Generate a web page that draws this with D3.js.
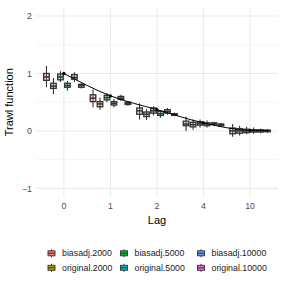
<!DOCTYPE html>
<html>
<head>
<meta charset="utf-8">
<script src="https://cdn.jsdelivr.net/npm/d3@7"></script>
<style>
  body { margin: 0; background: #fff; }
  text { font-family: "Liberation Sans", Arial, sans-serif; }
</style>
</head>
<body>
<script>
(function(){

	var lags = ["0", "1", "2", "4", "10"];
	var series = ["biasadj.2000", "original.2000", "biasadj.5000", "original.5000", "biasadj.10000", "original.10000"];
	var colors = ["#F8766D", "#B79F00", "#00BA38", "#00BFC4", "#619CFF", "#F564E3"];

	// [low whisker, q1, median, q3, high whisker] per lag, per series
	var stats = {
		"0":  [[0.76,0.88,0.94,1.00,1.13],[0.64,0.74,0.78,0.83,0.92],[0.85,0.89,0.94,0.99,1.04],
		       [0.70,0.76,0.79,0.83,0.87],[0.85,0.90,0.93,0.98,1.02],[0.74,0.76,0.79,0.81,0.83]],
		"1":  [[0.41,0.51,0.57,0.63,0.72],[0.37,0.42,0.47,0.51,0.58],[0.50,0.54,0.58,0.62,0.66],
		       [0.41,0.45,0.48,0.51,0.55],[0.52,0.55,0.57,0.60,0.63],[0.44,0.46,0.48,0.50,0.52]],
		"2":  [[0.20,0.29,0.35,0.40,0.48],[0.19,0.25,0.29,0.33,0.38],[0.27,0.31,0.35,0.40,0.43],
		       [0.23,0.27,0.30,0.34,0.36],[0.28,0.31,0.34,0.37,0.40],[0.26,0.27,0.29,0.30,0.32]],
		"4":  [[0.00,0.09,0.12,0.17,0.25],[0.02,0.07,0.11,0.15,0.20],[0.06,0.10,0.13,0.16,0.20],
		       [0.06,0.09,0.12,0.14,0.18],[0.09,0.11,0.13,0.14,0.16],[0.08,0.09,0.11,0.12,0.14]],
		"10": [[-0.10,-0.05,0.00,0.05,0.12],[-0.08,-0.04,0.00,0.04,0.09],[-0.06,-0.03,0.00,0.03,0.07],
		       [-0.05,-0.02,0.00,0.02,0.06],[-0.04,-0.02,0.00,0.02,0.04],[-0.03,-0.015,0.00,0.015,0.03]]
	};

	// true trawl function, read at category positions (index along the lag axis)
	var truePos = [0, 1, 2, 3, 4, 4.4];
	var trueVal = [1.00, 0.61, 0.37, 0.14, 0.01, 0.005];
	var dotCount = 5;

	var yTicks = [-1, 0, 1, 2];
	var yMinor = [-0.5, 0.5, 1.5];

	const SVG_WIDTH = 284;
	const SVG_HEIGHT = 284;
	const PANEL = { left: 36, right: 278, top: 7.4, bottom: 197 };

	var svg = d3.select("body").append("svg")
		.attr("width", SVG_WIDTH).attr("height", SVG_HEIGHT);

	var x = d3.scaleBand().domain(lags)
		.range([PANEL.left, PANEL.right])
		.paddingInner(0.1).paddingOuter(0.15);

	var xDodge = d3.scaleBand().domain(series).range([0, x.bandwidth()]);

	var y = d3.scaleLinear().domain([-1.15, 2.15]).range([PANEL.bottom, PANEL.top]);

	// position along the discrete axis as a continuous index
	var step = x.step();
	var xPos = function(p){ return x(lags[0]) + x.bandwidth() / 2 + p * step; };

	// grid
	svg.append("g").selectAll("line").data(yMinor).enter().append("line")
		.attr("x1", PANEL.left).attr("x2", PANEL.right)
		.attr("y1", function(d){ return y(d); }).attr("y2", function(d){ return y(d); })
		.attr("stroke", "#EBEBEB").attr("stroke-width", 0.55);
	svg.append("g").selectAll("line").data(yTicks).enter().append("line")
		.attr("x1", PANEL.left).attr("x2", PANEL.right)
		.attr("y1", function(d){ return y(d); }).attr("y2", function(d){ return y(d); })
		.attr("stroke", "#EBEBEB").attr("stroke-width", 1.07);
	svg.append("g").selectAll("line").data(lags).enter().append("line")
		.attr("x1", function(d){ return x(d) + x.bandwidth() / 2; })
		.attr("x2", function(d){ return x(d) + x.bandwidth() / 2; })
		.attr("y1", PANEL.top).attr("y2", PANEL.bottom)
		.attr("stroke", "#EBEBEB").attr("stroke-width", 1.07);

	// axes
	var yAxis = svg.append("g").attr("transform", "translate(" + PANEL.left + ",0)")
		.call(d3.axisLeft(y).tickValues(yTicks).tickFormat(d3.format("d")).tickSize(0).tickPadding(4));
	var xAxis = svg.append("g").attr("transform", "translate(0," + PANEL.bottom + ")")
		.call(d3.axisBottom(x).tickSize(0).tickPadding(6));
	[xAxis, yAxis].forEach(function(a){
		a.select(".domain").remove();
		a.selectAll("text").attr("fill", "#4D4D4D").attr("font-size", 8.8)
			.attr("font-family", "Liberation Sans, Arial, sans-serif");
	});

	// boxes
	var boxW = xDodge.bandwidth() * 0.8;
	var rows = [];
	lags.forEach(function(l){
		series.forEach(function(s, i){
			rows.push({ lag: l, s: s, i: i, v: stats[l][i] });
		});
	});

	var box = svg.append("g").selectAll("g").data(rows).enter().append("g")
		.attr("transform", function(d){
			return "translate(" + (x(d.lag) + xDodge(d.s) + xDodge.bandwidth() / 2) + ",0)";
		});
	box.append("line")
		.attr("y1", function(d){ return y(d.v[0]); }).attr("y2", function(d){ return y(d.v[4]); })
		.attr("stroke", "#333333").attr("stroke-width", 1.1);
	box.append("rect")
		.attr("x", -boxW / 2).attr("width", boxW)
		.attr("y", function(d){ return y(d.v[3]); })
		.attr("height", function(d){ return Math.max(0.8, y(d.v[1]) - y(d.v[3])); })
		.attr("fill", function(d){ return colors[d.i]; }).attr("fill-opacity", 0.3)
		.attr("stroke", "#333333").attr("stroke-width", 1.3);
	box.append("line")
		.attr("x1", -boxW / 2).attr("x2", boxW / 2)
		.attr("y1", function(d){ return y(d.v[2]); }).attr("y2", function(d){ return y(d.v[2]); })
		.attr("stroke", "#333333").attr("stroke-width", 1.5);

	// true trawl function
	var line = d3.line()
		.x(function(d){ return xPos(d[0]); })
		.y(function(d){ return y(d[1]); })
		.curve(d3.curveMonotoneX);
	var truePts = truePos.map(function(p, i){ return [p, trueVal[i]]; });
	svg.append("path").datum(truePts).attr("d", line)
		.attr("fill", "none").attr("stroke", "#000").attr("stroke-width", 1);
	svg.append("g").selectAll("circle").data(truePts.slice(0, dotCount)).enter().append("circle")
		.attr("cx", function(d){ return xPos(d[0]); })
		.attr("cy", function(d){ return y(d[1]); })
		.attr("r", 1.6).attr("fill", "#000");

	// titles
	svg.append("text").attr("x", (PANEL.left + PANEL.right) / 2).attr("y", 224)
		.attr("text-anchor", "middle").attr("font-size", 11).attr("fill", "#000").text("Lag");
	svg.append("text")
		.attr("transform", "translate(13," + ((PANEL.top + PANEL.bottom) / 2) + ") rotate(-90)")
		.attr("text-anchor", "middle").attr("font-size", 11).attr("fill", "#000").text("Trawl function");

	// legend, filled column by column, 2 rows
	var keyX = [51.5, 124, 201];
	var rowY = [253.3, 267.8];
	var leg = svg.append("g").selectAll("g").data(series).enter().append("g")
		.attr("transform", function(d, i){
			return "translate(" + keyX[Math.floor(i / 2)] + "," + rowY[i % 2] + ")";
		});
	leg.append("line").attr("y1", -4).attr("y2", 4)
		.attr("stroke", "#333333").attr("stroke-width", 1);
	leg.append("rect").attr("x", -3.5).attr("y", -2.5).attr("width", 7).attr("height", 5)
		.attr("fill", function(d, i){ return colors[i]; })
		.attr("stroke", "#333333").attr("stroke-width", 0.9);
	leg.append("line").attr("x1", -3.5).attr("x2", 3.5)
		.attr("stroke", "#333333").attr("stroke-width", 1);
	leg.append("text").attr("x", 10.5).attr("y", 3.1)
		.attr("font-size", 8.8).attr("fill", "#1a1a1a").text(function(d){ return d; });

})();
</script>
</body>
</html>
